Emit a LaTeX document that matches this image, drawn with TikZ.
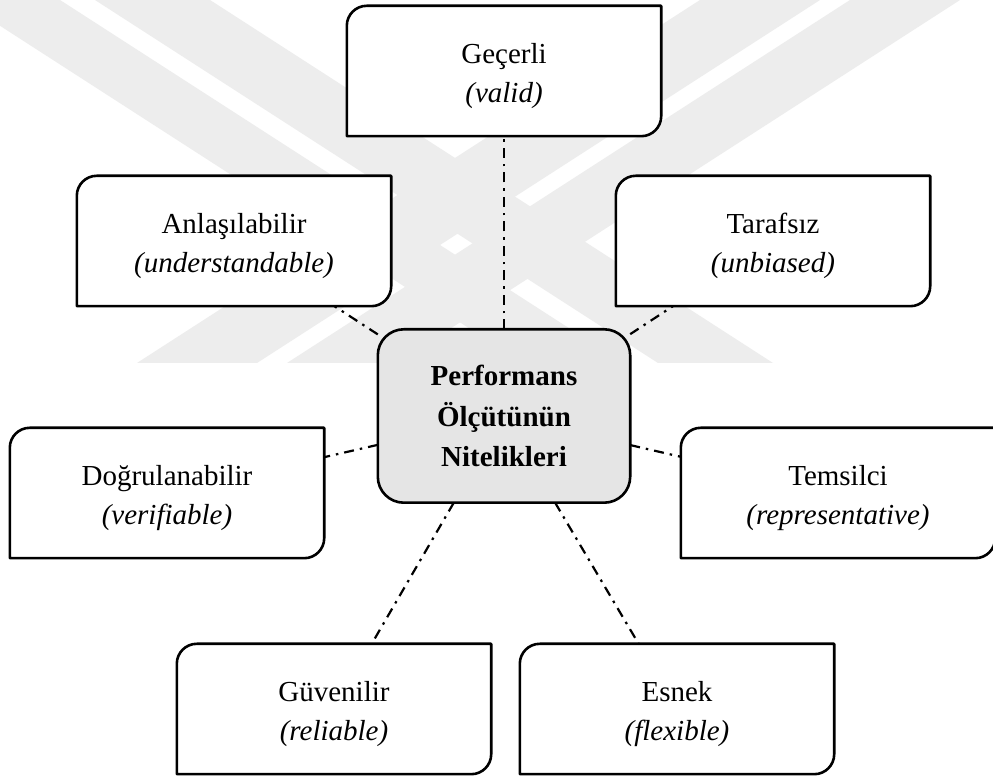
\documentclass[tikz,border=0pt]{standalone}
\usepackage{fontspec}
\setmainfont{Liberation Serif}
\pgfdeclarelayer{bg}
\pgfsetlayers{bg,main}
\newcommand{\topstrut}{\rule{0pt}{30pt}}
\tikzset{
  pbox/.style={draw=none, minimum width=314pt, minimum height=130pt, inner sep=0pt, align=center,
    font=\fontsize{29}{39}\selectfont},
  cbox/.style={draw=none, minimum width=252pt, minimum height=173pt, inner sep=0pt, align=center,
    font=\fontsize{29}{40.5}\selectfont\bfseries},
  boxline/.style={line width=2.6pt, draw=black, fill=white, line join=round},
  cboxline/.style={line width=2.6pt, draw=black, fill=black!10, rounded corners=26pt},
  conn/.style={line width=2.2pt, dash pattern=on 10pt off 6pt on 2.5pt off 6pt},
  wm/.style={fill=black!7, draw=none}
}
\newcommand{\tlbrshape}[1]{%
  \filldraw[boxline] (#1.south west) -- ([yshift=-20pt]#1.north west)
    arc[start angle=180, end angle=90, radius=20pt] -- (#1.north east)
    -- ([yshift=20pt]#1.south east)
    arc[start angle=0, end angle=-90, radius=20pt] -- cycle;}
\begin{document}
\begin{tikzpicture}[x=1pt, y=1pt]
\useasboundingbox (0,0) rectangle (993,776);
% watermark
\begin{pgfonlayer}{bg}
\fill[white] (0,0) rectangle (993,776);
\begin{scope}
\clip (0,413) rectangle (993,776);
\fill[wm] (-40,776) -- (60,776) -- (623,413) -- (523,413) -- cycle;
\fill[wm] (95,776) -- (210,776) -- (773,413) -- (658,413) -- cycle;
\fill[wm] (700,776) -- (820,776) -- (257,413) -- (137,413) -- cycle;
\fill[wm] (850,776) -- (960,776) -- (397,413) -- (287,413) -- cycle;
\end{scope}
\end{pgfonlayer}
% nodes
\node[pbox] (g) at (504,705) {\topstrut Geçerli\\\textit{(valid)}};
\node[pbox] (a) at (234,535) {\topstrut Anlaşılabilir\\\textit{(understandable)}};
\node[pbox] (t) at (773,535) {\topstrut Tarafsız\\\textit{(unbiased)}};
\node[cbox] (c) at (504,360) {Performans\\Ölçütünün\\Nitelikleri};
\node[pbox] (d) at (167,283) {\topstrut Doğrulanabilir\\\textit{(verifiable)}};
\node[pbox] (r) at (838,283) {\topstrut Temsilci\\\textit{(representative)}};
\node[pbox] (u) at (334,67) {\topstrut Güvenilir\\\textit{(reliable)}};
\node[pbox] (e) at (677,67) {\topstrut Esnek\\\textit{(flexible)}};
% box outlines
\begin{pgfonlayer}{bg}
\foreach \n in {g,a,t,d,r,u,e} {\tlbrshape{\n}}
\filldraw[cboxline] (c.south west) rectangle (c.north east);
\end{pgfonlayer}
% connectors
\foreach \n in {g,a,t,d,r,u,e} {\draw[conn] (c) -- (\n);}
\end{tikzpicture}
\end{document}
